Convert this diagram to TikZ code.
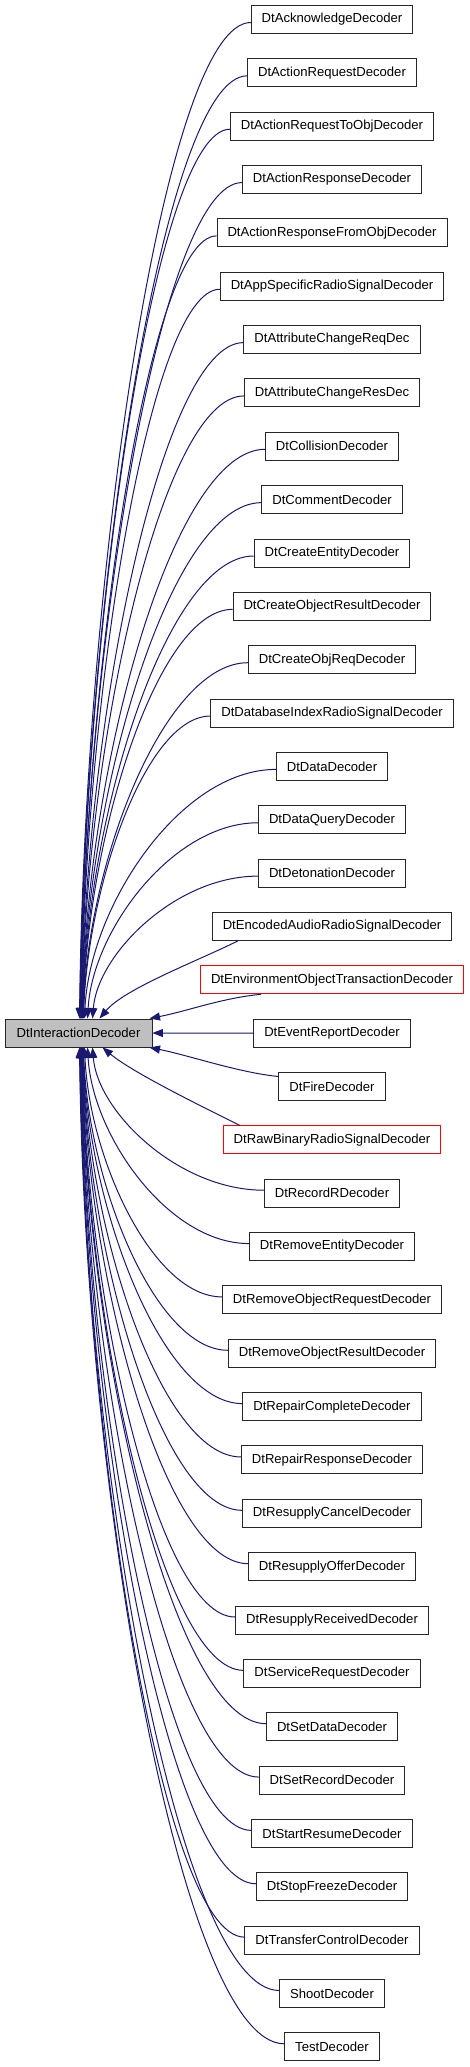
\documentclass[tikz,border=0pt]{standalone}
\usepackage{fontspec}
\setmainfont{Liberation Sans}
\usetikzlibrary{arrows.meta,calc}
\definecolor{edgeblue}{RGB}{25,25,112}
\definecolor{rootfill}{RGB}{191,191,191}
\begin{document}
\begin{tikzpicture}[x=1pt,y=-1pt,
  cls/.style={draw=black!85, line width=0.95pt, fill=white, minimum height=28pt,
    inner xsep=10.5pt, inner ysep=0pt, font=\fontsize{13.1}{15}\selectfont, anchor=center},
  undoc/.style={cls, draw=red},
  edge/.style={draw=edgeblue, line width=1pt, {Triangle[length=10.5pt,width=8pt]}-}]
\useasboundingbox (0,0) rectangle (469,2067);
\node[cls, fill=rootfill, minimum width=147pt] (root) at (78.5,1033) {DtInteractionDecoder};
\foreach \i/\t/\s in {
  0/DtAcknowledgeDecoder/cls,
  1/DtActionRequestDecoder/cls,
  2/DtActionRequestToObjDecoder/cls,
  3/DtActionResponseDecoder/cls,
  4/DtActionResponseFromObjDecoder/cls,
  5/DtAppSpecificRadioSignalDecoder/cls,
  6/DtAttributeChangeReqDec/cls,
  7/DtAttributeChangeResDec/cls,
  8/DtCollisionDecoder/cls,
  9/DtCommentDecoder/cls,
  10/DtCreateEntityDecoder/cls,
  11/DtCreateObjectResultDecoder/cls,
  12/DtCreateObjReqDecoder/cls,
  13/DtDatabaseIndexRadioSignalDecoder/cls,
  14/DtDataDecoder/cls,
  15/DtDataQueryDecoder/cls,
  16/DtDetonationDecoder/cls,
  17/DtEncodedAudioRadioSignalDecoder/cls,
  18/DtEnvironmentObjectTransactionDecoder/undoc,
  19/DtEventReportDecoder/cls,
  20/DtFireDecoder/cls,
  21/DtRawBinaryRadioSignalDecoder/undoc,
  22/DtRecordRDecoder/cls,
  23/DtRemoveEntityDecoder/cls,
  24/DtRemoveObjectRequestDecoder/cls,
  25/DtRemoveObjectResultDecoder/cls,
  26/DtRepairCompleteDecoder/cls,
  27/DtRepairResponseDecoder/cls,
  28/DtResupplyCancelDecoder/cls,
  29/DtResupplyOfferDecoder/cls,
  30/DtResupplyReceivedDecoder/cls,
  31/DtServiceRequestDecoder/cls,
  32/DtSetDataDecoder/cls,
  33/DtSetRecordDecoder/cls,
  34/DtStartResumeDecoder/cls,
  35/DtStopFreezeDecoder/cls,
  36/DtTransferControlDecoder/cls,
  37/ShootDecoder/cls,
  38/TestDecoder/cls}
  \node[\s] (n\i) at (332,{19.5+53.35*\i}) {\t};
% generic edges above the root
\foreach \i/\xe in {0/80,1/80.3,2/80.6,3/80.9,4/81.2,5/81.5,6/81.8,7/82.1,8/82.4,9/82.7,10/83,11/83.3,12/83.6,13/83.9,14/85,15/88,16/93}
  \draw[edge] let \p0=($(n\i.west)+(0,3)$), \p3=($(root.north west)+(\xe-5,0)$) in
    (\p3) .. controls ({\x3+5},{\y3+0.45*(\y0-\y3)}) and ({\x0-0.5*(\x0-\x3)},\y0) .. (\p0);
% generic edges below the root
\foreach \i/\xe in {22/93,23/88,24/85,25/83.9,26/83.6,27/83.3,28/83,29/82.7,30/82.4,31/82.1,32/81.8,33/81.5,34/81.2,35/80.9,36/80.6,37/80.3,38/80}
  \draw[edge] let \p0=($(n\i.west)+(0,-3)$), \p3=($(root.south west)+(\xe-5,0)$) in
    (\p3) .. controls ({\x3+5},{\y3+0.45*(\y0-\y3)}) and ({\x0-0.5*(\x0-\x3)},\y0) .. (\p0);
% special edges near the root
\draw[edge] let \p0=($(n17.south west)+(26,0)$), \p3=($(root.north west)+(95,0)$) in
  (\p3) .. controls ($(\p3)+(25,-30)$) and ($(\p0)+(-40,20)$) .. (\p0);
\draw[edge] let \p0=($(n18.south west)+(61,0)$), \p3=($(root.north west)+(145,0)$) in
  (\p3) .. controls ($(\p3)+(40,-8)$) and ($(\p0)+(-40,4)$) .. (\p0);
\draw[edge] (root.east) -- (n19.west);
\draw[edge] let \p0=($(n20.west)+(0,-10)$), \p3=($(root.south west)+(145,0)$) in
  (\p3) .. controls ($(\p3)+(40,8)$) and ($(\p0)+(-40,-4)$) .. (\p0);
\draw[edge] let \p0=($(n21.north west)+(17,0)$), \p3=($(root.south west)+(98,0)$) in
  (\p3) .. controls ($(\p3)+(30,25)$) and ($(\p0)+(-40,-20)$) .. (\p0);
\end{tikzpicture}
\end{document}
